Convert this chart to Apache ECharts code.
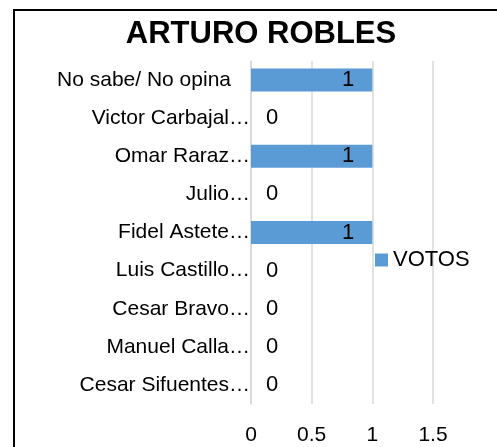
<!DOCTYPE html>
<html>
<head>
<meta charset="utf-8">
<script src="https://cdn.jsdelivr.net/npm/echarts@6/dist/echarts.min.js"></script>
<style>
  html, body { margin: 0; padding: 0; background: #fff; }
  #chart { width: 497px; height: 447px; }
</style>
</head>
<body>
<div id="chart"></div>
<script>
"use strict";

var categories = [
  "No sabe/ No opina",
  "Victor Carbajal…",
  "Omar Raraz…",
  "Julio…",
  "Fidel Astete…",
  "Luis Castillo…",
  "Cesar Bravo…",
  "Manuel Calla…",
  "Cesar Sifuentes…"
];
var votos = [1, 0, 1, 0, 1, 0, 0, 0, 0];
var xTicks = [0, 0.5, 1, 1.5];

var font = "Liberation Sans, Arial, sans-serif";
var chart = echarts.init(document.getElementById("chart"));

chart.setOption({
  animation: false,
  textStyle: { fontFamily: font },
  title: {
    text: "ARTURO ROBLES",
    left: 261,
    top: 19,
    padding: 0,
    textAlign: "center",
    textStyle: { fontSize: 31, fontWeight: "bold", color: "#000", fontFamily: font }
  },
  graphic: [
    {
      type: "rect",
      shape: { x: 14, y: 10, width: 700, height: 700 },
      style: { fill: "none", stroke: "#000", lineWidth: 2 },
      silent: true
    }
  ],
  legend: {
    data: ["VOTOS"],
    left: 375,
    top: 249,
    padding: 0,
    icon: "rect",
    itemWidth: 13,
    itemHeight: 13,
    itemGap: 5,
    textStyle: { fontSize: 22, color: "#000", fontFamily: font }
  },
  grid: { left: 251, right: 64, top: 61, bottom: 43 },
  xAxis: {
    type: "value",
    min: xTicks[0],
    max: xTicks[xTicks.length - 1],
    interval: 0.5,
    axisLine: { show: false },
    axisTick: { show: false },
    splitLine: { lineStyle: { color: "#d9d9d9", width: 1.5 } },
    axisLabel: { fontSize: 21, color: "#000", margin: 21, fontFamily: font }
  },
  yAxis: {
    type: "category",
    inverse: true,
    data: categories.map(function (c) {
      // Excel lets the truncated names run up to the axis; the full one keeps its margin
      if (c.indexOf("…") < 0) {
        return { value: c, textStyle: { padding: [0, 19, 0, 0] } };
      }
      return c;
    }),
    axisLine: { show: true, lineStyle: { color: "#d9d9d9", width: 1.5 } },
    axisTick: { show: false },
    axisLabel: { fontSize: 21, color: "#000", margin: 1, fontFamily: font }
  },
  series: [
    {
      name: "VOTOS",
      type: "bar",
      barWidth: 23,
      itemStyle: { color: "#5b9bd5" },
      data: votos.map(function (v) {
        return {
          value: v,
          label: v > 0
            ? { position: "insideRight", distance: 18 }
            : { position: "right", distance: 15 }
        };
      }),
      label: { show: true, fontSize: 22, color: "#000", fontFamily: font }
    }
  ]
});
</script>
</body>
</html>
